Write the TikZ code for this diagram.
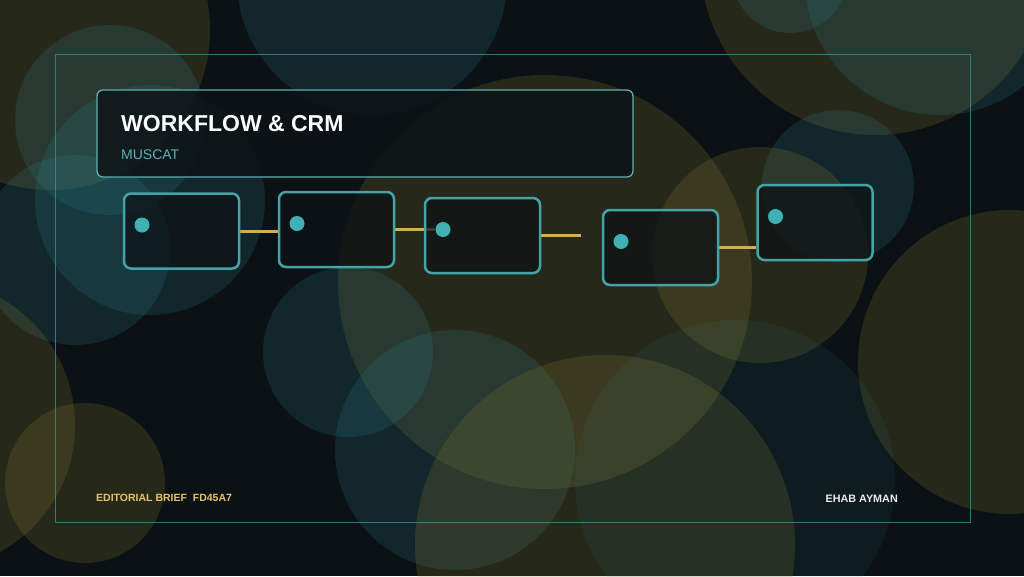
\documentclass[tikz,border=0pt]{standalone}
\usepackage{fontspec}
\setmainfont{Liberation Sans}
\usetikzlibrary{positioning}

\definecolor{bgdark}{HTML}{0B1115}
\definecolor{boxfill}{HTML}{0D1316}
\definecolor{tealc}{HTML}{2E7F8A}
\definecolor{olivec}{HTML}{8A7A30}
\definecolor{boxedge}{HTML}{44A3A6}
\definecolor{titleedge}{HTML}{5EAEB0}
\definecolor{framec}{HTML}{3E8E90}
\definecolor{pinc}{HTML}{3FB0B4}
\definecolor{goldc}{HTML}{D2AE4E}
\definecolor{footgold}{HTML}{E3C36A}
\definecolor{subteal}{HTML}{5BB3B5}

\pgfdeclarelayer{bg}
\pgfdeclarelayer{mid}
\pgfsetlayers{bg,mid,main}

\begin{document}
\begin{tikzpicture}[x=1pt,y=-1pt,
    stepbox/.style={draw=boxedge,line width=2.5pt,rounded corners=7pt,fill=boxfill,fill opacity=0.75,minimum width=115pt,minimum height=75pt,inner sep=0pt},
    pin/.style={circle,fill=pinc,minimum size=15pt,inner sep=0pt},
    link/.style={draw=goldc,line width=3pt},
    label/.style={inner sep=0pt},
    tealblob/.style={fill=tealc,fill opacity=0.2},
    oliveblob/.style={fill=olivec,fill opacity=0.22}]
    \useasboundingbox (0,0) rectangle (1024,576);
    \begin{pgfonlayer}{bg}
    \begin{scope}
    \clip (0,0) rectangle (1024,576);
    \fill[bgdark] (0,0) rectangle (1024,576);
    \fill[oliveblob] (50,30) circle[radius=160pt];
    \fill[tealblob] (110,120) circle[radius=95pt];
    \fill[tealblob] (75,250) circle[radius=95pt];
    \fill[tealblob] (150,200) circle[radius=115pt];
    \fill[tealblob] (372,-20) circle[radius=135pt];
    \fill[oliveblob] (875,-40) circle[radius=175pt];
    \fill[tealblob] (940,-20) circle[radius=135pt];
    \fill[tealblob] (790,-25) circle[radius=58pt];
    \fill[tealblob] (838,186) circle[radius=76pt];
    \fill[oliveblob] (545,282) circle[radius=207pt];
    \fill[oliveblob] (760,255) circle[radius=108pt];
    \fill[oliveblob] (1010,362) circle[radius=152pt];
    \fill[tealblob] (348,352) circle[radius=85pt];
    \fill[oliveblob] (85,483) circle[radius=80pt];
    \fill[oliveblob] (-70,425) circle[radius=145pt];
    \fill[tealblob] (455,450) circle[radius=120pt];
    \fill[oliveblob] (605,545) circle[radius=190pt];
    \fill[tealblob,fill opacity=0.1] (735,480) circle[radius=160pt];
    \end{scope}
    \end{pgfonlayer}
    %
    \draw[framec,draw opacity=0.8,line width=1pt] (55,54) rectangle (970,522);
    \node[draw=titleedge,line width=1.3pt,rounded corners=6pt,fill=boxfill,fill opacity=0.85,minimum width=536pt,minimum height=87pt] (header) at (365,133.5) {};
    \node[label,anchor=base west,text=white,font=\bfseries\fontsize{23}{26}\selectfont] (title) at (121,131) {WORKFLOW \& CRM};
    \node[label,anchor=base west,text=subteal,font=\fontsize{14}{16}\selectfont] (city) at (121,159) {MUSCAT};
    %
    \node[stepbox] (box1) at (181.5,231) {};
    \node[stepbox] (box2) at (336.5,229.5) {};
    \node[stepbox] (box3) at (482.5,235.5) {};
    \node[stepbox] (box4) at (660.5,247.5) {};
    \node[stepbox] (box5) at (815,222.5) {};
    \node[pin] (pin1) at ([shift={(-39.5,-6)}]box1.center) {};
    \node[pin] (pin2) at ([shift={(-39.5,-6)}]box2.center) {};
    \node[pin] (pin3) at ([shift={(-39.5,-6)}]box3.center) {};
    \node[pin] (pin4) at ([shift={(-39.5,-6)}]box4.center) {};
    \node[pin] (pin5) at ([shift={(-39.5,-6)}]box5.center) {};
    \coordinate (gap3) at (581,235.5);
    %
    \begin{pgfonlayer}{mid}
    \draw[link] (box1.east) -- (box1.east -| box2.west);
    \draw[link] (box2.east) -- (box2.east -| pin3.west);
    \draw[link] (box3.east) -- (gap3);
    \draw[link] (box4.east) -- (box4.east -| box5.west);
    \end{pgfonlayer}
    %
    \node[label,anchor=base west,text=footgold,font=\bfseries\fontsize{10.5}{12}\selectfont] (brief) at (96,501) {EDITORIAL BRIEF\ \ FD45A7};
    \node[label,anchor=base east,text=white!92!black,font=\bfseries\fontsize{10.8}{12}\selectfont] (author) at (898,502) {EHAB AYMAN};
\end{tikzpicture}
\end{document}
